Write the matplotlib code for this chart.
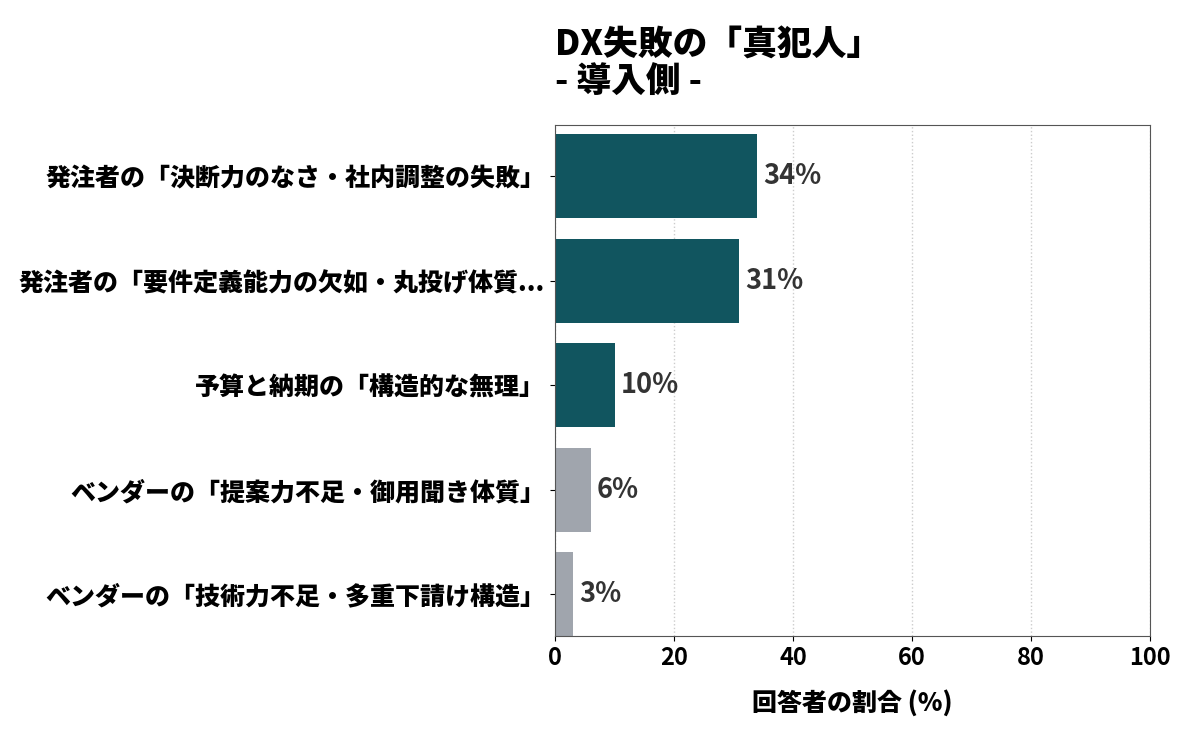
import numpy as np
import matplotlib.pyplot as plt

plt.rcParams['font.family'] = ['Noto Sans CJK JP', 'DejaVu Sans']

categories = [
    "発注者の「決断力のなさ・社内調整の失敗」",
    "発注者の「要件定義能力の欠如・丸投げ体質...",
    "予算と納期の「構造的な無理」",
    "ベンダーの「提案力不足・御用聞き体質」",
    "ベンダーの「技術力不足・多重下請け構造」",
]
values = [34, 31, 10, 6, 3]
colors = ["#11555f", "#11555f", "#11555f", "#a0a5ad", "#a0a5ad"]

fig = plt.figure(figsize=(12, 7.5), dpi=100)
ax = fig.add_axes([555 / 1200, 1 - 636 / 750, 595 / 1200, 511 / 750])

y = np.arange(len(categories))[::-1]
ax.barh(y, values, height=0.8, color=colors, zorder=2)

for yi, v in zip(y, values):
    ax.text(v + 1, yi, f"{v}%", va="center", ha="left", fontsize=19.5,
            fontweight="bold", color="#333333", zorder=3)

ax.set_xlim(0, 100)
ax.set_ylim(-0.4, 4.49)
ax.set_yticks(y)
ax.set_yticklabels(categories, fontsize=18, fontweight="heavy")
ax.set_xticks([0, 20, 40, 60, 80, 100])
ax.tick_params(axis="x", labelsize=17)
for lab in ax.get_xticklabels():
    lab.set_fontweight("bold")
ax.grid(axis="x", linestyle=":", color="#cccccc", linewidth=1, zorder=0)
ax.set_xlabel("回答者の割合 (%)", fontsize=18, fontweight="heavy", labelpad=14)
for s in ax.spines.values():
    s.set_color("#555555")

fig.text(555 / 1200, 1 - 45 / 750, "DX失敗の「真犯人」", fontsize=25,
         fontweight="heavy", va="center", ha="left")
fig.text(555 / 1200, 1 - 82 / 750, "- 導入側 -", fontsize=25,
         fontweight="heavy", va="center", ha="left")

fig.savefig("out.png", dpi=100)
